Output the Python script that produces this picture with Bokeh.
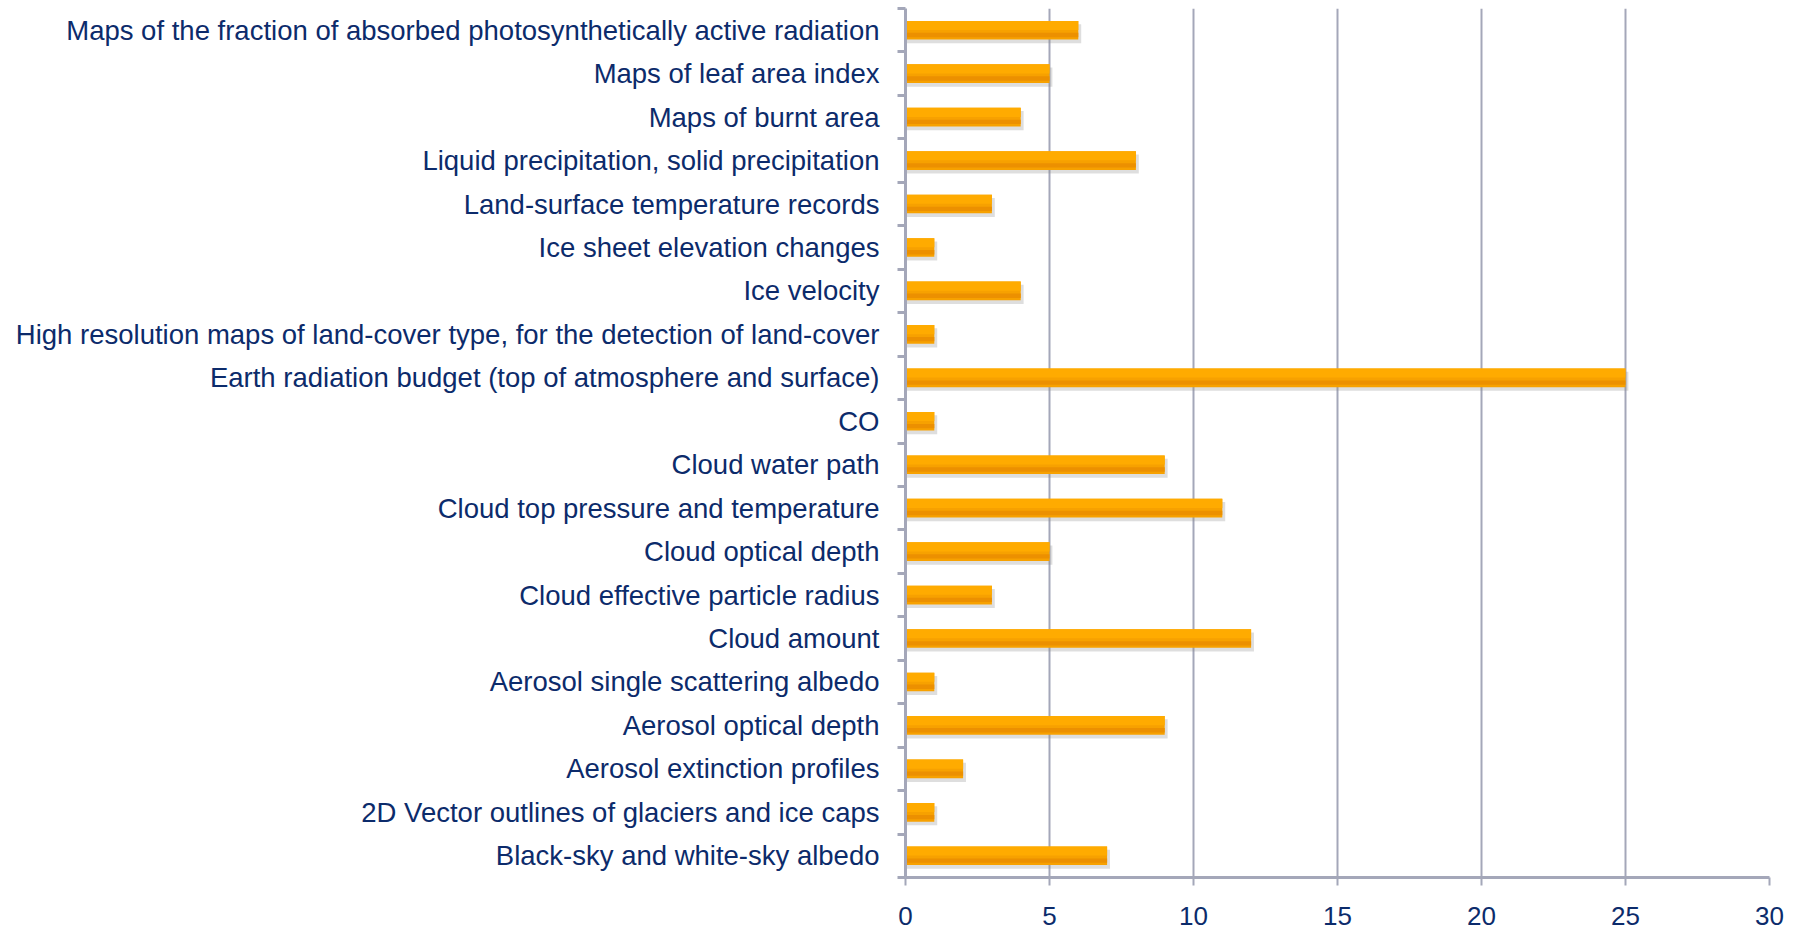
from bokeh.plotting import figure
from bokeh.models import FixedTicker, Range1d, ColumnDataSource
from bokeh.embed import file_html
from bokeh.resources import INLINE

categories = [
    "Black-sky and white-sky albedo",
    "2D Vector outlines of glaciers and ice caps",
    "Aerosol extinction profiles",
    "Aerosol optical depth",
    "Aerosol single scattering albedo",
    "Cloud amount",
    "Cloud effective particle radius",
    "Cloud optical depth",
    "Cloud top pressure and temperature",
    "Cloud water path",
    "CO",
    "Earth radiation budget (top of atmosphere and surface)",
    "High resolution maps of land-cover type, for the detection of land-cover",
    "Ice velocity",
    "Ice sheet elevation changes",
    "Land-surface temperature records",
    "Liquid precipitation, solid precipitation",
    "Maps of burnt area",
    "Maps of leaf area index",
    "Maps of the fraction of absorbed photosynthetically active radiation",
]
values = [7, 1, 2, 9, 1, 12, 3, 5, 11, 9, 1, 25, 1, 4, 1, 3, 8, 4, 5, 6]
x_ticks = [0, 5, 10, 15, 20, 25, 30]

n = len(categories)
ypos = list(range(1, n + 1))

src = ColumnDataSource(dict(
    y=ypos,
    v=values,
    ys=[y - 0.08 for y in ypos],
    vs=[v + 0.1 for v in values],
    ytop=[y + 0.11 for y in ypos],
    ybot=[y - 0.11 for y in ypos],
))

p = figure(
    frame_width=864, frame_height=869,
    min_border_left=905, min_border_right=31, min_border_top=8, min_border_bottom=56,
    x_range=Range1d(0, 30), y_range=Range1d(0.5, n + 0.5),
    output_backend="svg", toolbar_location=None,
    background_fill_color="white", border_fill_color="white",
)
p.outline_line_color = None

navy = "#0c2b6b"
grid_col = "#a4a7b9"

# shadow
p.hbar(y="ys", right="vs", left=0, height=0.44, source=src,
       fill_color="#8a8a8a", fill_alpha=0.28, line_color=None)
# main bar
p.hbar(y="y", right="v", left=0, height=0.43, source=src,
       fill_color="#f7a100", line_color=None)
# lighter top, darker bottom strips
p.hbar(y="ytop", right="v", left=0, height=0.21, source=src,
       fill_color="#ffab00", line_color=None)
p.hbar(y="ybot", right="v", left=0, height=0.10, source=src,
       fill_color="#ec9000", line_color=None)

# x axis
p.xaxis.ticker = FixedTicker(ticks=x_ticks)
p.xaxis.axis_line_color = grid_col
p.xaxis.axis_line_width = 3
p.xaxis.major_tick_line_color = grid_col
p.xaxis.major_tick_line_width = 2
p.xaxis.major_tick_out = 8
p.xaxis.major_tick_in = 0
p.xaxis.minor_tick_line_color = None
p.xaxis.major_label_text_font = "Liberation Sans"
p.xaxis.major_label_text_font_size = "26px"
p.xaxis.major_label_text_color = navy
p.xaxis.major_label_standoff = 21

p.xgrid.ticker = FixedTicker(ticks=x_ticks)
p.xgrid.grid_line_color = grid_col
p.xgrid.grid_line_width = 2
p.ygrid.grid_line_color = None

# y axis
p.yaxis.ticker = FixedTicker(ticks=ypos, minor_ticks=[y - 0.5 for y in ypos] + [n + 0.5])
p.yaxis.major_label_overrides = {y: c for y, c in zip(ypos, categories)}
p.yaxis.axis_line_color = grid_col
p.yaxis.axis_line_width = 3
p.yaxis.major_tick_line_color = None
p.yaxis.minor_tick_line_color = grid_col
p.yaxis.minor_tick_line_width = 3
p.yaxis.minor_tick_out = 8
p.yaxis.minor_tick_in = 0
p.yaxis.major_label_text_font = "Liberation Sans"
p.yaxis.major_label_text_font_size = "27.5px"
p.yaxis.major_label_text_color = navy
p.yaxis.major_label_standoff = 18

open("out.html", "w").write(file_html(p, INLINE))
